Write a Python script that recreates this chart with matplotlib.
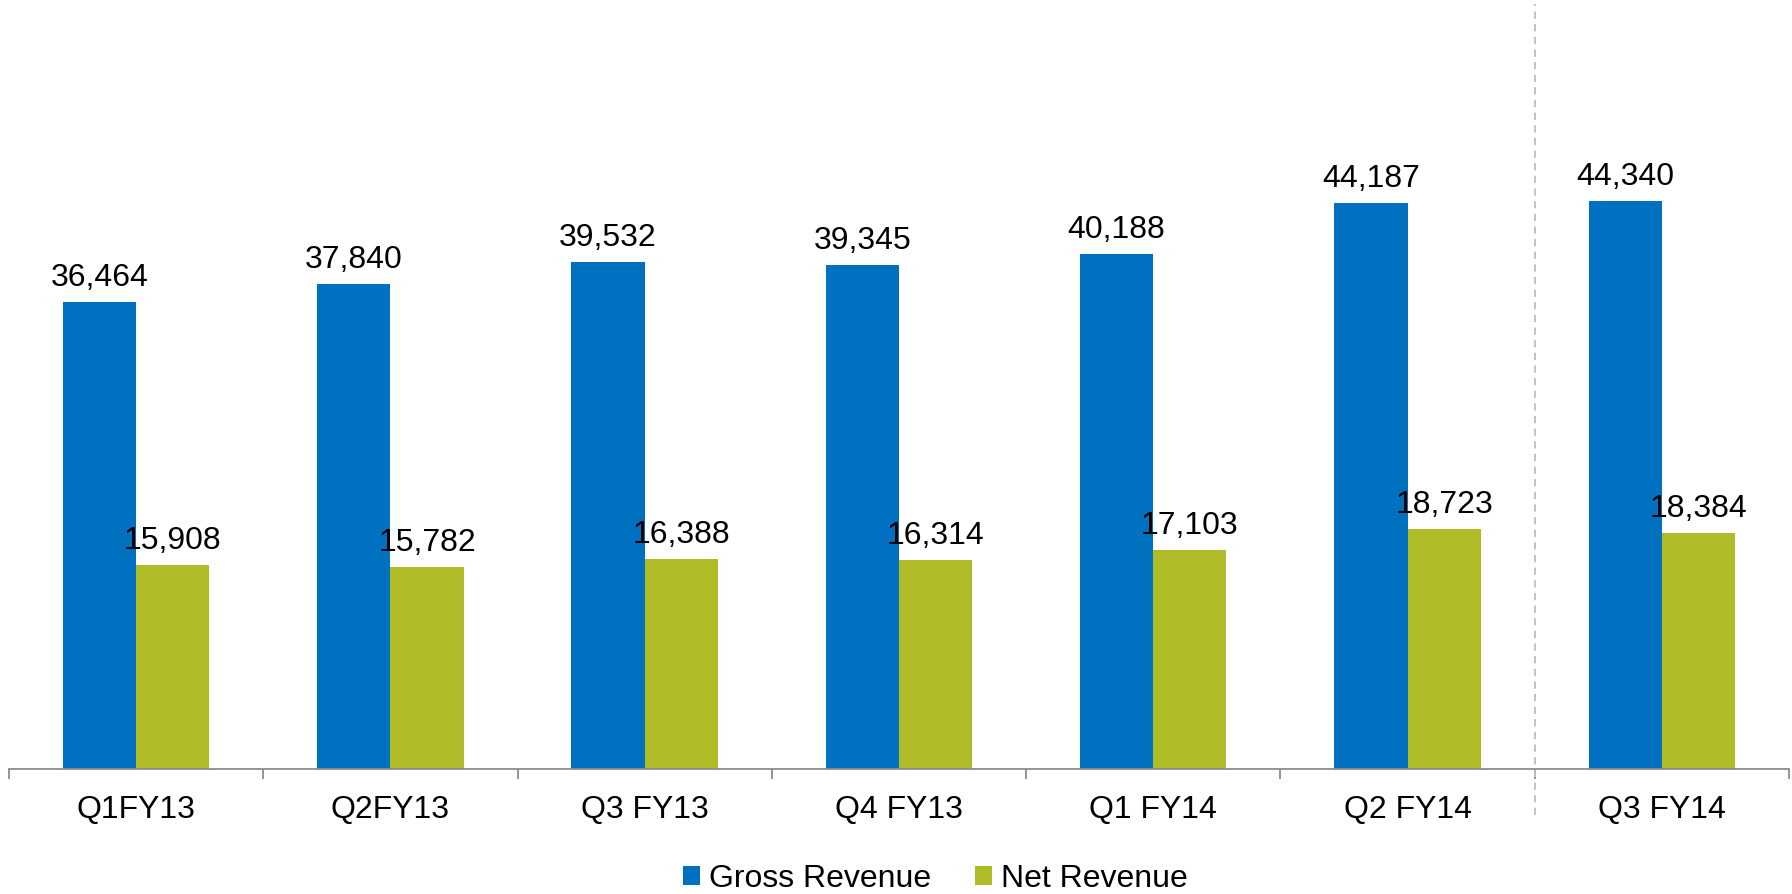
import matplotlib
matplotlib.use("Agg")
import matplotlib.pyplot as plt
from matplotlib.patches import Patch
from matplotlib.lines import Line2D
import numpy as np

plt.rcParams['font.family'] = ['Liberation Sans', 'DejaVu Sans']

quarters = ["Q1FY13", "Q2FY13", "Q3 FY13", "Q4 FY13", "Q1 FY14", "Q2 FY14", "Q3 FY14"]
gross_revenue = [36464, 37840, 39532, 39345, 40188, 44187, 44340]
net_revenue = [15908, 15782, 16388, 16314, 17103, 18723, 18384]

BLUE = "#0070C0"
GREEN = "#B0BC27"

fig = plt.figure(figsize=(17.92, 8.94), dpi=100)
ax = fig.add_axes([0.005, 0.1398, 0.9933, 0.8602])

x = np.arange(len(quarters))
w = 0.288
gb = ax.bar(x - w / 2, gross_revenue, width=w, color=BLUE, zorder=2)
nb = ax.bar(x + w / 2, net_revenue, width=w, color=GREEN, zorder=2)

for rects, vals in ((gb, gross_revenue), (nb, net_revenue)):
    for r, v in zip(rects, vals):
        ax.annotate(f"{v:,}", (r.get_x() + r.get_width() / 2, v),
                    xytext=(0, 11.5), textcoords="offset points",
                    ha="center", va="baseline", fontsize=23, color="black")

ax.set_xlim(-0.5, len(quarters) - 0.5)
ax.set_ylim(0, 60000)
for s in ("top", "right", "left"):
    ax.spines[s].set_visible(False)
ax.spines["bottom"].set_color("#8C8C8C")
ax.spines["bottom"].set_linewidth(1.3)
ax.set_yticks([])

ax.set_xticks(x)
ax.set_xticklabels(quarters, fontsize=23)
ax.set_xticks(np.arange(-0.5, len(quarters), 1.0), minor=True)
ax.tick_params(axis="x", which="major", length=0, pad=19)
ax.tick_params(axis="x", which="minor", length=7.5, width=1.3, color="#8C8C8C")

# separator before the latest quarter
ax.add_line(Line2D([5.5, 5.5], [-0.06, 0.995], transform=ax.get_xaxis_transform(),
                   color="#BDBDBD", linestyle=(0, (4, 3)), linewidth=1.3, clip_on=False))

handles = [Patch(facecolor=BLUE, label="Gross Revenue"),
           Patch(facecolor=GREEN, label="Net Revenue")]
fig.legend(handles=handles, loc="center", bbox_to_anchor=(0.522, 0.017), ncol=2,
           frameon=False, fontsize=23, handlelength=0.53, handleheight=0.53,
           handletextpad=0.28, columnspacing=1.4, borderpad=0)

fig.savefig("out.png", dpi=100)
